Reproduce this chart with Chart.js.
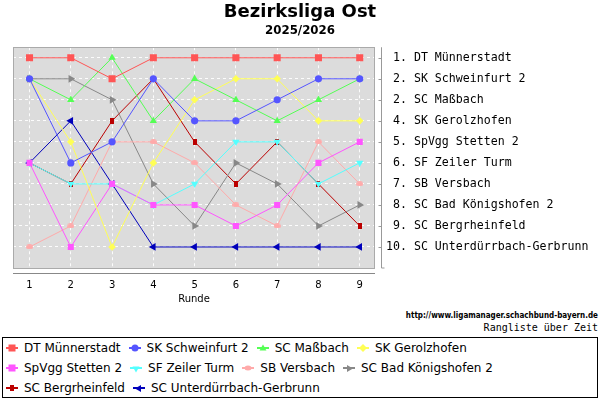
<!DOCTYPE html>
<html>
<head>
<meta charset="utf-8">
<script src="https://cdn.jsdelivr.net/npm/chart.js@4.4.1/dist/chart.umd.min.js"></script>
<style>
  html, body { margin:0; padding:0; background:#fff; }
  #wrap { position:relative; width:600px; height:400px; overflow:hidden; font-family:"DejaVu Sans", sans-serif; }
  #chartBox { position:absolute; left:0; top:0; width:600px; height:306px; }
  #url { position:absolute; right:2px; top:311px; font:bold 8px "DejaVu Sans Condensed","DejaVu Sans",sans-serif; color:#000; white-space:nowrap; }
  #sub2 { position:absolute; right:2px; top:322px; font:10px "DejaVu Sans Mono",monospace; color:#000; white-space:pre; }
  #legend { position:absolute; left:2px; top:337px; width:594px; height:59px; border:1px solid #000; }
  .row { position:absolute; left:3px; height:20px; line-height:20px; white-space:nowrap; font:12px "DejaVu Sans",sans-serif; color:#000; }
  .item { display:inline-block; margin-right:8px; }
  .item canvas { vertical-align:middle; margin-right:6px; position:relative; top:-1px; }
</style>
</head>
<body>
<div id="wrap">
  <div id="chartBox"><canvas id="c"></canvas></div>
  <div id="url">http://www.ligamanager.schachbund-bayern.de</div>
  <div id="sub2">Rangliste über Zeit</div>
  <div id="legend"></div>
</div>
<script>
// ---- data ----
const titleText = 'Bezirksliga Ost';
const subtitleText = '2025/2026';
const xTitle = 'Runde';
const rounds = [1, 2, 3, 4, 5, 6, 7, 8, 9];
const rankTicks = [1, 2, 3, 4, 5, 6, 7, 8, 9, 10];
const rankLabels = [' 1. DT Münnerstadt', ' 2. SK Schweinfurt 2', ' 2. SC Maßbach', ' 4. SK Gerolzhofen',
  ' 5. SpVgg Stetten 2', ' 6. SF Zeiler Turm', ' 7. SB Versbach', ' 8. SC Bad Königshofen 2',
  ' 9. SC Bergrheinfeld', '10. SC Unterdürrbach-Gerbrunn'];
const teams = ['DT Münnerstadt', 'SK Schweinfurt 2', 'SC Maßbach', 'SK Gerolzhofen', 'SpVgg Stetten 2',
  'SF Zeiler Turm', 'SB Versbach', 'SC Bad Königshofen 2', 'SC Bergrheinfeld', 'SC Unterdürrbach-Gerbrunn'];
const dtMuennerstadt   = [1, 1, 2, 1, 1, 1, 1, 1, 1];
const skSchweinfurt2   = [2, 6, 5, 2, 4, 4, 3, 2, 2];
const scMassbach       = [2, 3, 1, 4, 2, 3, 4, 3, 2];
const skGerolzhofen    = [2, 5, 10, 6, 3, 2, 2, 4, 4];
const spvggStetten2    = [6, 10, 7, 8, 8, 9, 8, 6, 5];
const sfZeilerTurm     = [6, 7, 7, 8, 7, 5, 5, 7, 6];
const sbVersbach       = [10, 9, 5, 5, 6, 8, 9, 5, 7];
const scBadKoenigshofen2 = [2, 2, 3, 7, 9, 6, 7, 9, 8];
const scBergrheinfeld  = [6, 7, 4, 2, 5, 7, 5, 7, 9];
const scUnterduerrbach = [6, 4, 7, 10, 10, 10, 10, 10, 10];
const seriesValues = [dtMuennerstadt, skSchweinfurt2, scMassbach, skGerolzhofen, spvggStetten2,
  sfZeilerTurm, sbVersbach, scBadKoenigshofen2, scBergrheinfeld, scUnterduerrbach];

// ---- styles ----
const colors = ['#ff5555', '#5555ff', '#55ff55', '#ffff55', '#ff55ff', '#55ffff', '#ffaaaa', '#888888', '#bb0000', '#0000bb'];
function shapeCanvas(w, h, color, kind) {
  const c = document.createElement('canvas');
  c.width = w; c.height = h;
  const x = c.getContext('2d');
  x.fillStyle = color;
  if (kind === 'ellipse') { x.beginPath(); x.ellipse(w/2, h/2, w/2, h/2, 0, 0, Math.PI*2); x.fill(); }
  else x.fillRect(0, 0, w, h);
  return c;
}
const pinkMark = shapeCanvas(7, 5, '#ffaaaa', 'ellipse');
const darkRedMark = shapeCanvas(4, 6, '#bb0000', 'rect');
const styles = [
  {ps: 'rect', r: 5, rot: 0},
  {ps: 'circle', r: 3.6, rot: 0},
  {ps: 'triangle', r: 4.2, rot: 0},
  {ps: 'rectRot', r: 3.8, rot: 0},
  {ps: 'rect', r: 4.3, rot: 0},
  {ps: 'triangle', r: 4.2, rot: 180},
  {ps: pinkMark, r: 3, rot: 0},
  {ps: 'triangle', r: 4.5, rot: 90},
  {ps: darkRedMark, r: 3, rot: 0},
  {ps: 'triangle', r: 4.5, rot: 270},
];

const datasets = teams.map((t, i) => ({
  label: t,
  xAxisID: 'x',
  yAxisID: 'y',
  data: rounds.map((r, j) => ({x: r, y: seriesValues[i][j]})),
  borderColor: colors[i],
  backgroundColor: colors[i],
  pointBackgroundColor: colors[i],
  pointBorderColor: colors[i],
  pointBorderWidth: 0,
  borderWidth: 1,
  pointStyle: styles[i].ps,
  pointRadius: styles[i].r,
  pointRotation: styles[i].rot,
  pointHoverRadius: styles[i].r,
  tension: 0,
  fill: false,
}));

const framePlugin = {
  id: 'frame',
  beforeDraw(chart) {
    const {ctx, chartArea: a} = chart;
    ctx.save();
    ctx.fillStyle = '#dcdcdc';
    ctx.fillRect(a.left, a.top, a.right - a.left, a.bottom - a.top);
    ctx.restore();
  },
  afterDraw(chart) {
    const {ctx, chartArea: a} = chart;
    const ys = chart.scales.y;
    ctx.save();
    ctx.lineWidth = 1;
    ctx.strokeStyle = '#aaaaaa';
    ctx.strokeRect(Math.round(a.left) + 0.5, Math.round(a.top) + 0.5, Math.round(a.right - a.left) - 1, Math.round(a.bottom - a.top));
    // bottom axis line
    ctx.strokeStyle = '#888888';
    ctx.beginPath();
    ctx.moveTo(a.left, Math.round(a.bottom) + 5.5);
    ctx.lineTo(a.right, Math.round(a.bottom) + 5.5);
    ctx.stroke();
    // right axis line with ticks
    const ax = Math.round(a.right) + 6.5;
    ctx.strokeStyle = '#999999';
    ctx.beginPath();
    ctx.moveTo(ax, a.top);
    ctx.lineTo(ax, a.bottom);
    ctx.lineTo(ax + 3, a.bottom);
    rankTicks.forEach(v => {
      const py = Math.round(ys.getPixelForValue(v)) + 0.5;
      ctx.moveTo(ax - 3, py);
      ctx.lineTo(ax, py);
    });
    ctx.stroke();
    ctx.restore();
  }
};

new Chart(document.getElementById('c'), {
  type: 'line',
  data: { datasets },
  plugins: [framePlugin],
  options: {
    responsive: true,
    maintainAspectRatio: false,
    animation: false,
    layout: { padding: 0 },
    plugins: {
      legend: { display: false },
      tooltip: { enabled: false },
      title: { display: true, text: titleText, color: '#000',
        font: { family: 'DejaVu Sans', size: 18, weight: 'bold' }, padding: { top: 1.2, bottom: 1.3 } },
      subtitle: { display: true, text: subtitleText, color: '#000',
        font: { family: 'DejaVu Sans', size: 11.8, weight: 'bold' }, padding: { top: 0, bottom: 9 } },
    },
    scales: {
      x: {
        type: 'linear', min: 0.6, max: 9.37,
        afterBuildTicks(s) { s.ticks = rounds.map(v => ({value: v})); },
        afterFit(s) { s.height = 38; },
        ticks: { color: '#000', font: { family: 'DejaVu Sans', size: 10 }, padding: 11,
          callback: (v) => String(v) },
        grid: { color: 'rgba(255,255,255,0.9)', drawTicks: false, lineWidth: 1 },
        border: { display: false, dash: [3, 3] },
        title: { display: true, text: xTitle, color: '#000', font: { family: 'DejaVu Sans', size: 10 },
          padding: { top: 0, bottom: 1 } },
      },
      y: {
        type: 'linear', position: 'right', reverse: true, min: 0.5, max: 11,
        afterBuildTicks(s) { s.ticks = rankTicks.map(v => ({value: v})); },
        afterFit(s) { s.width = 225; },
        ticks: { color: '#000', font: { family: 'DejaVu Sans Mono', size: 11.6 }, padding: 11,
          callback: (v) => rankLabels[rankTicks.indexOf(v)] },
        grid: { color: 'rgba(255,255,255,0.9)', drawTicks: false, lineWidth: 1 },
        border: { display: false, dash: [3, 3] },
      },
      yl: {
        type: 'linear', position: 'left', display: true,
        afterFit(s) { s.width = 13; },
        ticks: { display: false },
        grid: { display: false, drawTicks: false },
        border: { display: false },
      }
    }
  }
});

// ---- legend (HTML) ----
const legendRows = [[0, 1, 2, 3], [4, 5, 6, 7], [8, 9]];
function legendIcon(i) {
  const c = document.createElement('canvas');
  c.width = 12; c.height = 10;
  const x = c.getContext('2d');
  x.strokeStyle = colors[i]; x.fillStyle = colors[i]; x.lineWidth = 2;
  x.beginPath(); x.moveTo(0, 5); x.lineTo(12, 5); x.stroke();
  const cx = 6, cy = 5;
  x.beginPath();
  const st = styles[i];
  const tri = (rot) => {
    const r = 4;
    for (let k = 0; k < 3; k++) {
      const a = rot * Math.PI / 180 - Math.PI / 2 + k * 2 * Math.PI / 3;
      const px = cx + r * Math.cos(a), py = cy + 0.5 + r * Math.sin(a);
      k ? x.lineTo(px, py) : x.moveTo(px, py);
    }
    x.closePath(); x.fill();
  };
  if (st.ps === 'rect') { x.fillRect(cx - 3.5, cy - 3.5, 7, 7); }
  else if (st.ps === 'circle') { x.arc(cx, cy, 3.5, 0, Math.PI * 2); x.fill(); }
  else if (st.ps === 'rectRot') { x.moveTo(cx, cy - 4); x.lineTo(cx + 4, cy); x.lineTo(cx, cy + 4); x.lineTo(cx - 4, cy); x.closePath(); x.fill(); }
  else if (st.ps === 'triangle') { tri(st.rot); }
  else if (st.ps === pinkMark) { x.ellipse(cx, cy, 3.5, 2.5, 0, 0, Math.PI * 2); x.fill(); }
  else if (st.ps === darkRedMark) { x.fillRect(cx - 2, cy - 3, 4, 6); }
  return c;
}
const lg = document.getElementById('legend');
legendRows.forEach((row, ri) => {
  const d = document.createElement('div');
  d.className = 'row';
  d.style.top = (ri * 20 + 3) + 'px';
  row.forEach(i => {
    const it = document.createElement('span');
    it.className = 'item';
    it.appendChild(legendIcon(i));
    const t = document.createElement('span');
    t.textContent = teams[i];
    it.appendChild(t);
    d.appendChild(it);
  });
  lg.appendChild(d);
});
</script>
</body>
</html>
